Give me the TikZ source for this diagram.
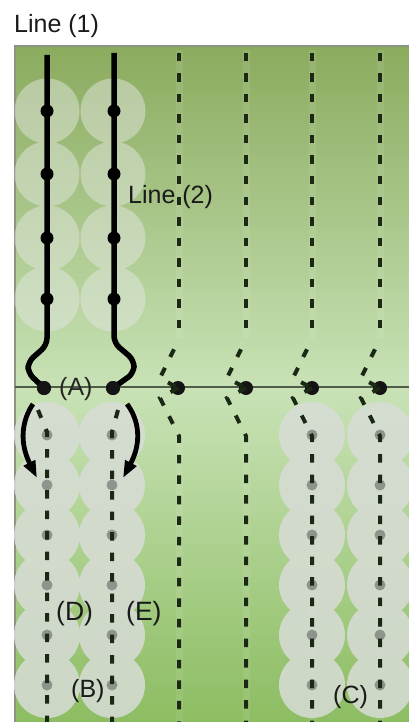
\documentclass[tikz,border=0pt]{standalone}
\usepackage{fontspec}
\setmainfont{Liberation Sans}
\usetikzlibrary{arrows.meta}
\definecolor{bgtop}{HTML}{8BAB5E}
\definecolor{bgmid}{HTML}{A8C888}
\definecolor{bglow}{HTML}{C8E2B6}
\definecolor{bgmidb}{HTML}{ADD28C}
\definecolor{bgbot}{HTML}{8DBD62}
\definecolor{dashcol}{HTML}{1A2814}
\definecolor{hlinecol}{HTML}{4F5C48}
\definecolor{greydot}{HTML}{8E948C}
\definecolor{blobcol}{HTML}{D8DCD6}
\definecolor{topcirc}{HTML}{E2E6E0}
\definecolor{framecol}{HTML}{8C9484}
\definecolor{labcol}{HTML}{1A1A1A}
\tikzset{
  dline/.style={draw=dashcol, line width=4pt, dash pattern=on 8.5pt off 12pt},
  halo/.style={draw=white, opacity=0.08, line width=7pt},
  solidline/.style={draw=black, line width=5.5pt, rounded corners=7pt},
  bigdot/.style={circle, fill=black!92, inner sep=0pt, minimum size=14pt},
  smalldot/.style={circle, fill=black, inner sep=0pt, minimum size=13pt},
  gdot/.style={circle, fill=greydot, inner sep=0pt, minimum size=11pt},
  lbl/.style={font=\fontsize{25}{30}\selectfont, text=labcol, inner sep=0pt, anchor=base west},
  lblb/.style={font=\fontsize{26.5}{30}\selectfont, text=labcol, inner sep=0pt, anchor=base west},
  turnarrow/.style={draw=black, line width=4.8pt, -{Triangle[length=17pt,width=12pt]}},
}
\begin{document}
\begin{tikzpicture}[x=1pt,y=-1pt]
\useasboundingbox (0,0) rectangle (409,722);
\fill[white] (0,0) rectangle (409,722);
% background field
\shade[top color=bgtop, middle color=bgmid, bottom color=bglow] (15,46) rectangle (409,387);
\shade[top color=bglow, middle color=bgmidb, bottom color=bgbot] (15,387) rectangle (409,722);
\draw[framecol, line width=1.6pt] (15,722) -- (15,46) -- (409,46);
% halos along dashed rows
\foreach \X in {179,246,312,380} {
  \draw[halo] (\X,50) -- (\X,338);
  \draw[halo] (\X,436) -- (\X,722);
}
% light circles above the line
\fill[topcirc, opacity=0.5]
  (47,111) circle (32.5) (47,174) circle (32.5) (47,238) circle (32.5) (47,299) circle (32.5)
  (113,111) circle (32.5) (113,174) circle (32.5) (113,238) circle (32.5) (113,299) circle (32.5);
% grey blobs below the line
\fill[blobcol, opacity=0.86]
  (47,435) circle (33) (47,485) circle (33) (47,535) circle (33) (47,585) circle (33) (47,635) circle (33) (47,685) circle (33)
  (112,435) circle (33) (112,485) circle (33) (112,535) circle (33) (112,585) circle (33) (112,635) circle (33) (112,685) circle (33)
  (312,435) circle (33) (312,485) circle (33) (312,535) circle (33) (312,585) circle (33) (312,635) circle (33) (312,685) circle (33)
  (380,435) circle (33) (380,485) circle (33) (380,535) circle (33) (380,585) circle (33) (380,635) circle (33) (380,685) circle (33);
% horizontal line
\coordinate (hl) at (15,387);
\coordinate (hr) at (409,387);
\draw[hlinecol, line width=1.6pt] (hl) -- (hr);
% grey dots below
\foreach \X in {47,112,312,380} {
  \foreach \k in {0,...,5} {
    \node[gdot] (g\X-\k) at (\X,435+50*\k) {};
  }
}
% dots on the line
\node[bigdot] (h1) at (44,388) {};
\node[bigdot] (h2) at (113,388) {};
\node[bigdot] (h3) at (178,388) {};
\node[bigdot] (h4) at (246,388) {};
\node[bigdot] (h5) at (312,388) {};
\node[bigdot] (h6) at (380,388) {};
% dashed rows with their jog into the dot
\foreach \X/\n in {179/h3,246/h4,312/h5,380/h6} {
  \draw[dline] (\X,53) -- (\X,338);
  \draw[dline, dash phase=9pt] (\X,339) -- (\X-19,378) -- (\n.center);
  \draw[dline] (\n.center) -- (\X-19,398) -- (\X,436) -- (\X,722);
}
\draw[dline] (38,410) -- (47,432) -- (47,722);
\draw[dline] (118,410) -- (112,432) -- (112,722);
% solid lines (1) and (2)
\draw[solidline] (47,55) -- (47,345) -- (28,362) -- (28,373) -- (h1.center);
\draw[solidline] (114,53) -- (114,343) -- (134,360) -- (134,373) -- (h2.center);
\foreach \y/\k in {111/1,174/2,238/3,299/4} {
  \node[smalldot] (a\k) at (47,\y) {};
  \node[smalldot] (b\k) at (114,\y) {};
}
\node[bigdot] at (h1) {};
\node[bigdot] at (h2) {};
% turning arrows
\draw[turnarrow] (33,404) .. controls (22,420) and (19,442) .. (37,478);
\draw[turnarrow] (127,404) .. controls (139,420) and (142,442) .. (123,478);
% labels
\node[lbl] (lab1) at (14,33) {Line (1)};
\node[lbl] (lab2) at (128,203) {Line (2)};
\node[lbl, text=black!85] (labA) at (59,395) {(A)};
\node[lblb] (labD) at (56,620) {(D)};
\node[lblb] (labE) at (126,620) {(E)};
\node[lbl] (labB) at (71,697) {(B)};
\node[lbl] (labC) at (333,703) {(C)};
\end{tikzpicture}
\end{document}
